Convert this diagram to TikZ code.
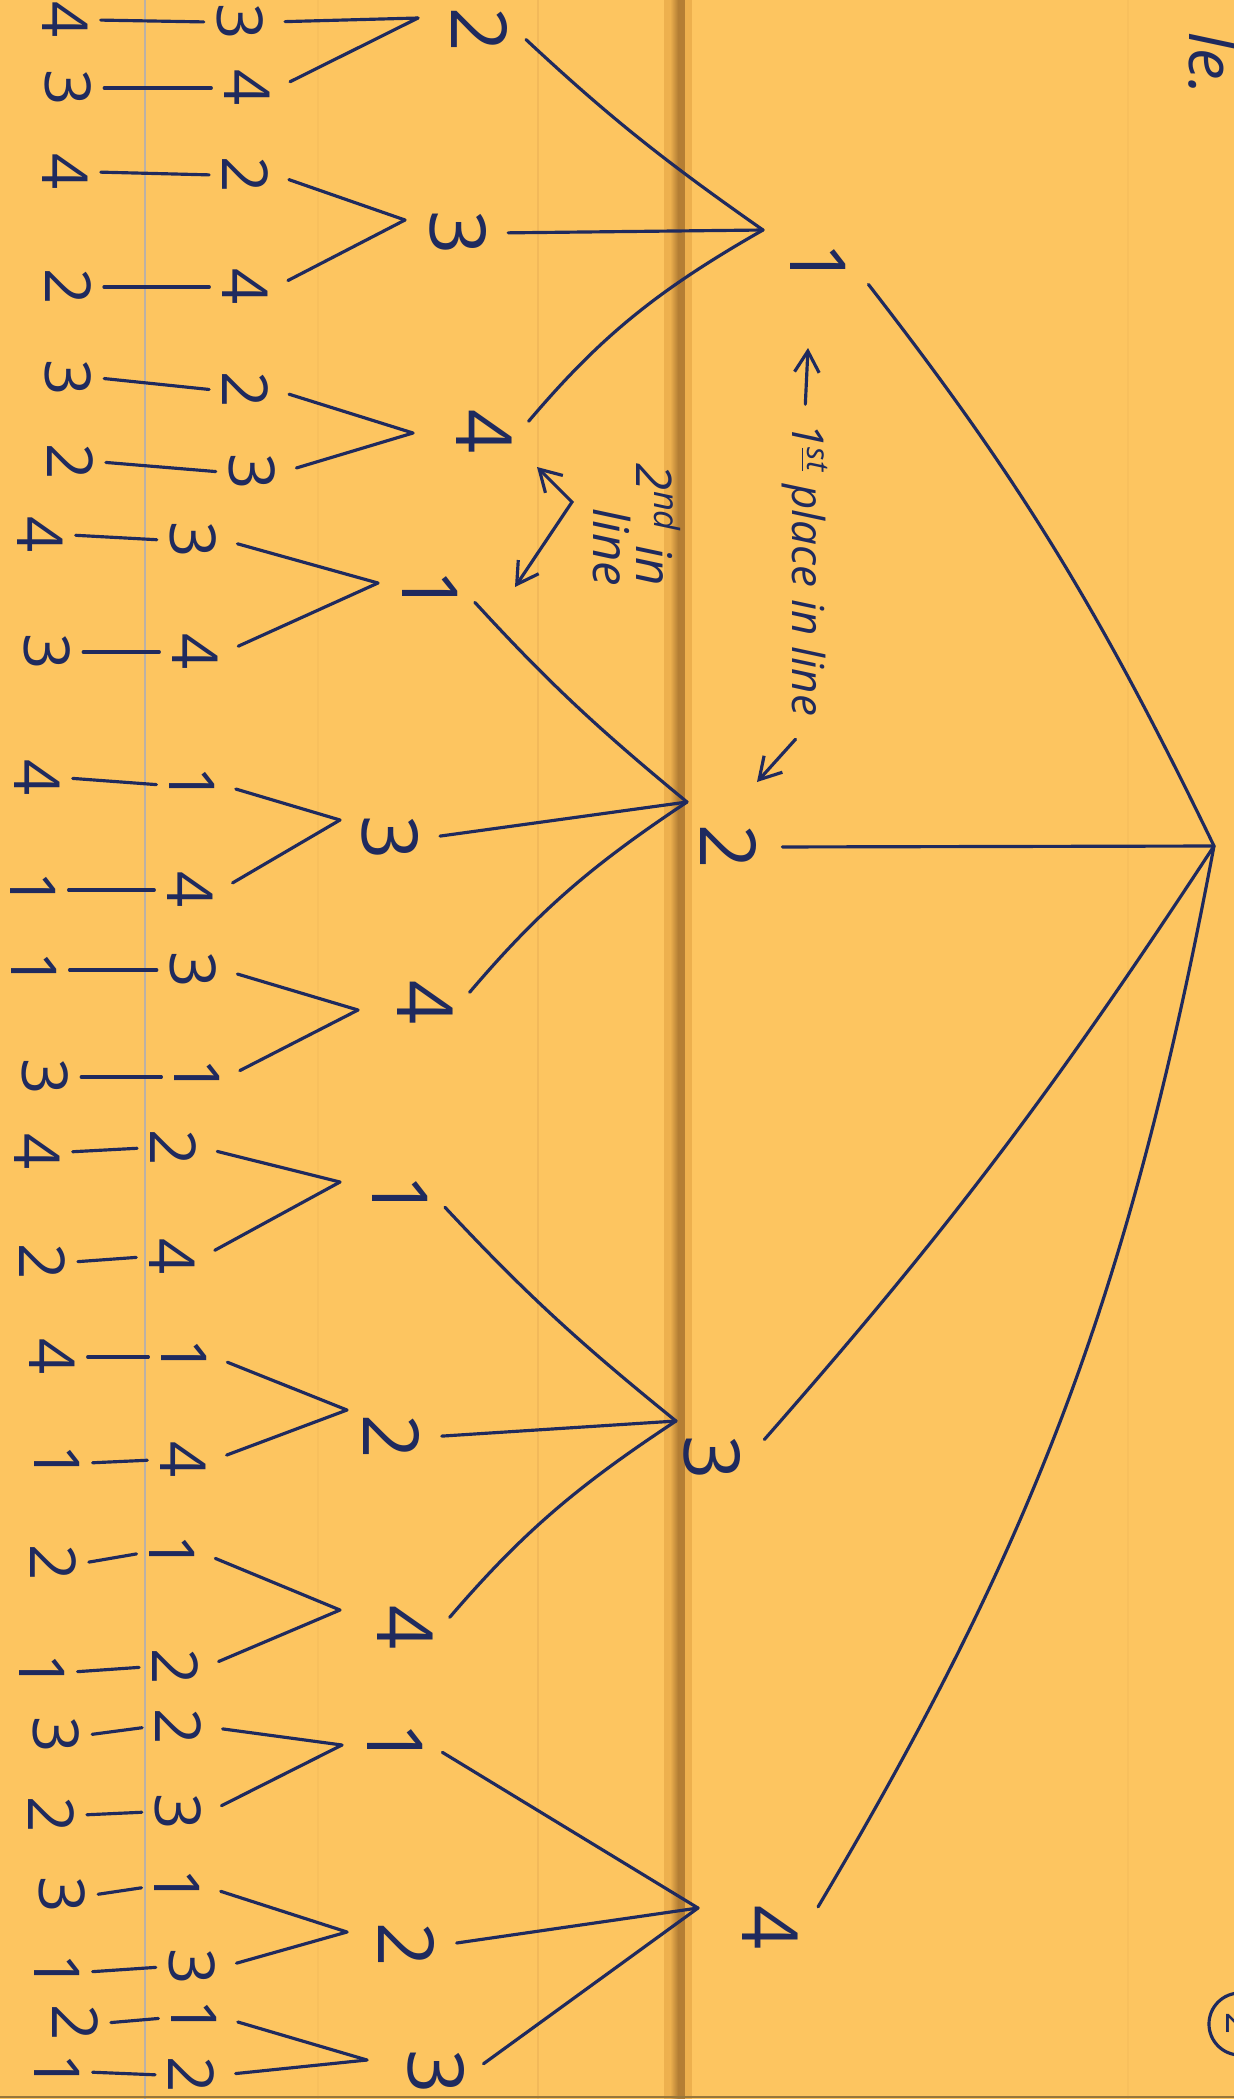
\documentclass[tikz,border=0pt]{standalone}
\usepackage{fontspec}
\setmainfont{Open Sans}
\definecolor{paper}{HTML}{FDC560}
\definecolor{ink}{HTML}{1F2A5E}
\definecolor{fold}{HTML}{B47E34}
\definecolor{foldedge}{HTML}{EDB04E}
\definecolor{rulegrey}{HTML}{BBB1A6}
\usetikzlibrary{arrows.meta}

\begin{document}
\begin{tikzpicture}[x=0.01cm, y=-0.01cm]
  \tikzset{digit/.style={rotate=-90, text=ink, inner sep=2pt,
           font=\fontsize{18}{18}\selectfont},
           bigdigit/.style={digit, font=\fontsize{22}{22}\selectfont},
           pen/.style={draw=ink, line width=0.9pt, line cap=round},
           arm/.style={pen, shorten >=4pt},
           note/.style={rotate=-90, text=ink,
           font=\itshape\fontsize{12.5}{12.5}\selectfont},
           pointer/.style={pen, -{Straight Barb[length=6pt, width=7pt]}}}
  \useasboundingbox (0,0) rectangle (1234,2099);
  \clip (0,0) rectangle (1234,2099);
  \fill[paper] (0,0) rectangle (1234,2099);
  \draw[rulegrey, line width=0.5pt] (145,0) -- (145,2099);
  \draw[paper!92!brown, line width=0.4pt] (318,0) -- (318,2099);
  \draw[paper!82!brown, line width=0.5pt] (538,0) -- (538,2099);
  \draw[paper!92!brown, line width=0.4pt] (1128,0) -- (1128,2099);
  \fill[foldedge] (664,0) rectangle (692,2099);
  \shade[left color=foldedge, right color=fold] (670,0) rectangle (678,2099);
  \fill[fold] (678,0) rectangle (685,2099);
  \draw[paper!60!black, line width=0.6pt] (0,2097) -- (1234,2097);

  \foreach \k/\cv/\cx/\cy/\dv/\dx/\dy in {
      1/3/240/22/4/65/20,       2/4/247/88/3/68/88,
      3/2/245/175/4/65/172,     4/4/245/287/2/68/287,
      5/2/245/390/3/68/378,     6/3/252/472/2/70/462,
      7/3/193/540/4/40/535,     8/4/195/652/3/47/652,
      9/1/192/785/4/37/778,     10/4/190/890/1/33/890,
      11/3/193/970/1/34/970,    12/1/197/1077/3/45/1077,
      13/2/173/1148/4/37/1152,  14/4/172/1257/2/42/1262,
      15/1/184/1357/4/52/1357,  16/4/183/1460/1/57/1463,
      17/1/172/1553/2/53/1563,  18/2/175/1667/1/42/1672,
      19/2/178/1727/3/56/1735,  20/3/178/1812/2/51/1815,
      21/1/177/1887/3/62/1895,  22/3/192/1967/1/57/1972,
      23/1/194/2018/2/75/2023,  24/2/191/2075/1/57/2072}{
    \node[digit] (c\k) at (\cx,\cy) {\cv};
    \node[digit] (d\k) at (\dx,\dy) {\dv};
    \draw[pen, shorten <=1.5pt, shorten >=1.5pt] (d\k.north) -- (c\k.south);
  }

  \foreach \j/\mv/\mx/\my/\vx/\vy/\ca/\cb in {
      11/2/480/30/418/18/1/2,       12/3/458/233/405/220/3/4,
      13/4/484/432/413/433/5/6,     21/1/430/592/378/583/7/8,
      22/3/390/838/340/820/9/10,    23/4/425/1003/358/1010/11/12,
      31/1/400/1197/340/1182/13/14, 32/2/392/1437/347/1410/15/16,
      33/4/405/1628/340/1610/17/18, 41/1/395/1745/342/1745/19/20,
      42/2/407/1945/347/1932/21/22, 43/3/436/2072/367/2060/23/24}{
    \node[bigdigit] (m\j) at (\mx,\my) {\mv};
    \coordinate (v\j) at (\vx,\vy);
    \draw[arm] (v\j) -- (c\ca.north);
    \draw[arm] (v\j) -- (c\cb.north);
  }

  \node[bigdigit] (n1) at (818,265) {1};
  \node[bigdigit] (n2) at (729,847) {2};
  \node[bigdigit] (n3) at (712,1458) {3};
  \node[bigdigit] (n4) at (770,1928) {4};
  \coordinate (a1) at (763,230);
  \coordinate (a2) at (687,802);
  \coordinate (a3) at (676,1421);
  \coordinate (a4) at (698,1908);
  \coordinate (root) at (1214,846);

  \draw[arm] (a1) to[bend left=4] (m11.north);
  \draw[arm] (a1) -- (m12.north);
  \draw[arm] (a1) to[bend right=10] (m13.north);
  \draw[arm] (a2) to[bend left=4] (m21.north);
  \draw[arm] (a2) -- (m22.north);
  \draw[arm] (a2) to[bend right=8] (m23.north);
  \draw[arm] (a3) to[bend left=4] (m31.north);
  \draw[arm] (a3) -- (m32.north);
  \draw[arm] (a3) to[bend right=8] (m33.north);
  \draw[arm] (a4) -- (m41.north);
  \draw[arm] (a4) -- (m42.north);
  \draw[arm] (a4) -- (m43.north);

  \draw[arm, shorten >=7pt] (root) to[bend right=6] (n1.north);
  \draw[arm, shorten >=5pt] (root) -- (n2.north);
  \draw[arm, shorten >=7pt] (root) to[bend left=4] (n3.north);
  \draw[arm, shorten >=7pt] (root) to[bend left=10] (n4.north);

  \node[note] (first) at (805,570) {1\textsuperscript{\underline{st}} place in line};
  \coordinate (firsttip) at (808,348);
  \coordinate (secondtip) at (757,782);
  \draw[pointer, shorten <=2pt] (first.west) -- (firsttip);
  \draw[pointer, shorten <=4pt] (first.east) -- (secondtip);

  \node[note, align=right, font=\itshape\fontsize{14}{12}\selectfont] (second)
    at (637,525) {2\textsuperscript{nd} in\\line};
  \coordinate (tipa) at (537,467);
  \coordinate (kink) at (572,502);
  \coordinate (tipb) at (515,587);
  \draw[pen, {Straight Barb[length=6pt, width=7pt]}-{Straight Barb[length=6pt, width=7pt]}]
    (tipa) -- (kink) -- (tipb);

  \node[note, font=\itshape\fontsize{18}{18}\selectfont] (mark) at (1213,64) {le.};
  \node[circle, draw=ink, line width=0.9pt, minimum size=0.62cm, inner sep=0pt,
        rotate=-90, text=ink, font=\fontsize{11}{11}\selectfont] (pageno)
    at (1240,2024) {2};
\end{tikzpicture}
\end{document}
